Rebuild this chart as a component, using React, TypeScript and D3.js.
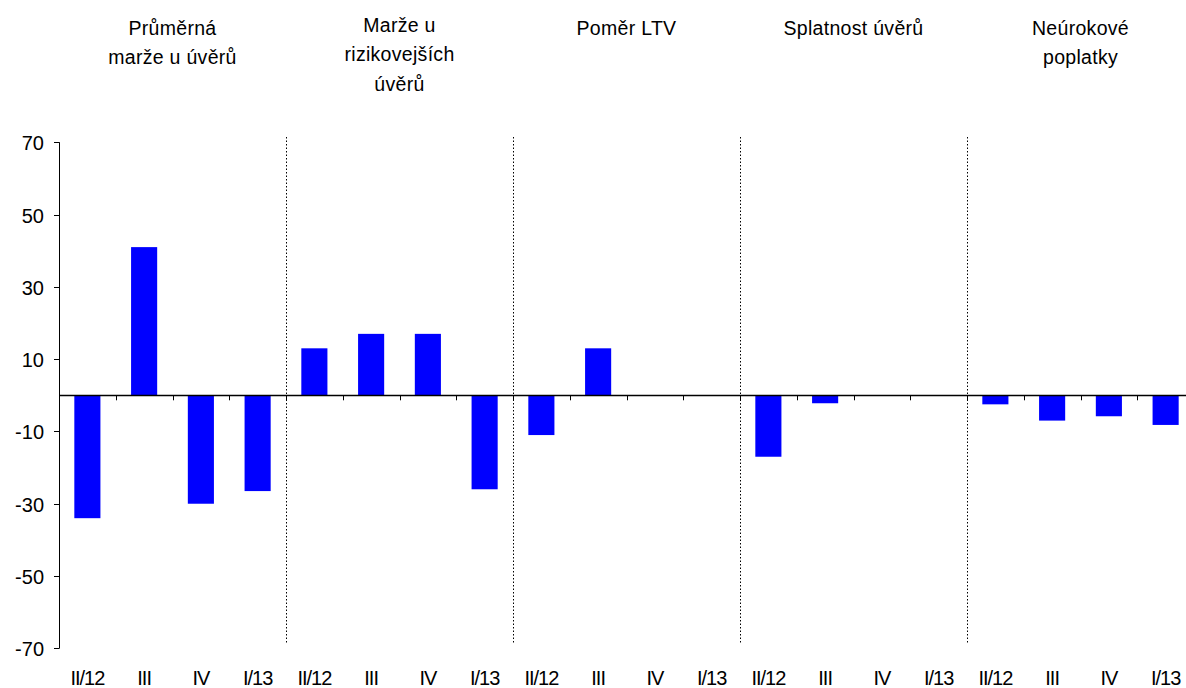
import * as React from "react";
import { scaleBand, scaleLinear, range } from "d3";

const groups = [
  ["Průměrná", "marže u úvěrů"],
  ["Marže u", "rizikovejších", "úvěrů"],
  ["Poměr LTV"],
  ["Splatnost úvěrů"],
  ["Neúrokové", "poplatky"],
];
const quarters = ["II/12", "III", "IV", "I/13"];
const values = [
  [-34, 41, -30, -26.5],
  [13, 17, 17, -26],
  [-11, 13, 0, 0],
  [-17, -2.2, 0, 0],
  [-2.5, -7, -5.8, -8.2],
];
const yTicks = [-70, -50, -30, -10, 10, 30, 50, 70];

const width = 1186;
const height = 688;
const left = 59;
const right = 1194;
const top = 142.3;
const bottom = 648.3;

export default function App() {
  const cats = groups.flatMap((_, g) => quarters.map((q, i) => `${g}-${i}`));
  const flat = values.flat();
  const x = scaleBand<string>()
    .domain(cats)
    .range([left, right])
    .paddingInner(0.54)
    .paddingOuter(0.27);
  const y = scaleLinear().domain([-70, 70]).range([bottom, top]);
  const step = x.step();
  const groupW = step * quarters.length;
  const font = "'Liberation Sans', Arial, sans-serif";

  return (
    <svg
      width={width}
      height={height}
      style={{ position: "absolute", left: 0, top: 0, background: "#fff" }}
      fontFamily={font}
    >
      {/* group titles */}
      {groups.map((lines, g) => {
        const cx = left + groupW * g + groupW / 2;
        const y0 = lines.length > 2 ? 25 : 28;
        return (
          <text key={g} textAnchor="middle" fontSize={19.5} letterSpacing={0.3} fill="#000">
            {lines.map((l, i) => (
              <tspan key={i} x={cx} y={y0 + i * 29.5} dy="0.35em">
                {l}
              </tspan>
            ))}
          </text>
        );
      })}

      {/* bars */}
      {flat.map((v, i) => (
        <rect
          key={i}
          x={x(cats[i])}
          width={x.bandwidth()}
          y={y(Math.max(0, v))}
          height={Math.abs(y(v) - y(0))}
          fill="#0000ff"
        />
      ))}

      {/* separators */}
      {range(1, groups.length).map((g) => {
        const sx = Math.round(left + groupW * g) + 0.5;
        return (
          <line
            key={g}
            x1={sx}
            x2={sx}
            y1={137}
            y2={643}
            stroke="#000"
            strokeWidth={1}
            strokeDasharray="1.5 2"
          />
        );
      })}

      {/* y axis */}
      <line x1={left + 0.5} x2={left + 0.5} y1={y(70)} y2={y(-70)} stroke="#000" />
      {yTicks.map((t) => (
        <g key={t} transform={`translate(0,${Math.round(y(t)) + 0.5})`}>
          <line x1={left - 5} x2={left + 0.5} stroke="#000" />
          <text x={44} textAnchor="end" dy="0.35em" fontSize={20} fill="#000">
            {t}
          </text>
        </g>
      ))}

      {/* zero line with ticks */}
      <line x1={left} x2={width} y1={Math.round(y(0)) + 0.5} y2={Math.round(y(0)) + 0.5} stroke="#000" strokeWidth={1.5} />
      {range(1, cats.length).map((i) => {
        const tx = Math.round(left + step * i) + 0.5;
        return (
          <line key={i} x1={tx} x2={tx} y1={y(0)} y2={y(0) + 5} stroke="#000" />
        );
      })}

      {/* category labels */}
      {cats.map((c, i) => (
        <text
          key={c}
          x={(x(c) ?? 0) + x.bandwidth() / 2}
          y={685}
          textAnchor="middle"
          fontSize={20}
          letterSpacing={-1}
          fill="#000"
        >
          {quarters[i % quarters.length]}
        </text>
      ))}
    </svg>
  );
}
